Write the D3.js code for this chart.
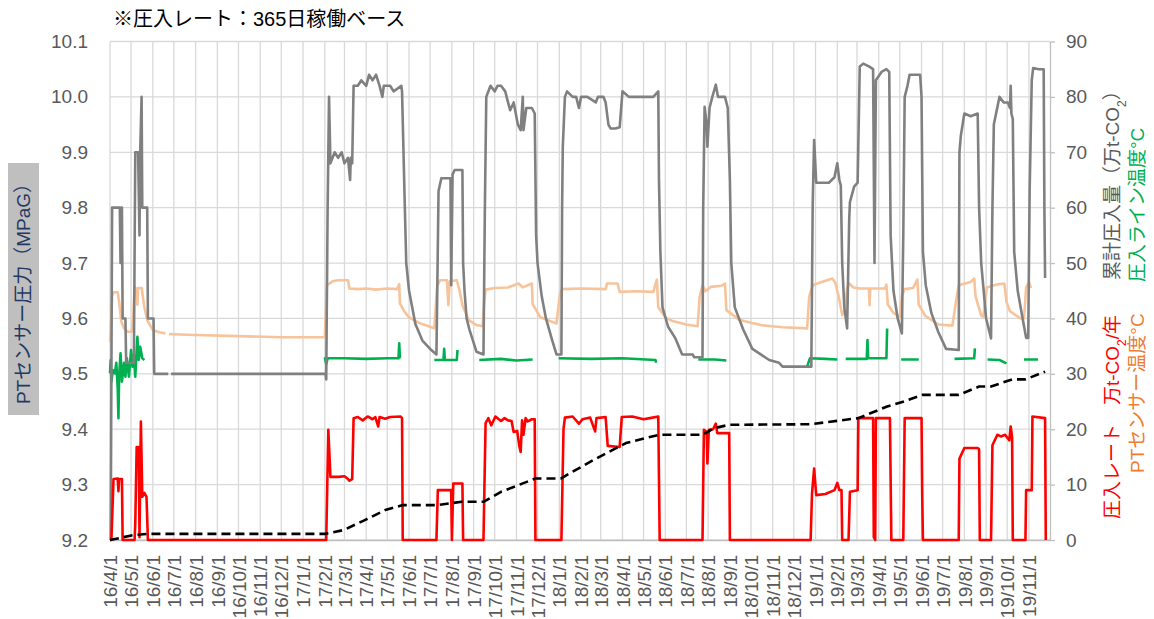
<!DOCTYPE html>
<html>
<head>
<meta charset="utf-8">
<script src="https://cdn.jsdelivr.net/npm/d3@7"></script>
<style>
  body { margin: 0; background: #fff; }
  svg { display: block; }
</style>
</head>
<body>
<div id="chart"></div>
<script>
// PTセンサー圧力 (MPaG, left axis)
var pressure = [
  ["2016-04-02",9.20],["2016-04-04",9.80],["2016-04-15",9.80],["2016-04-16",9.70],["2016-04-17",9.80],["2016-04-18",9.80],
  ["2016-04-19",9.60],["2016-04-23",9.60],["2016-04-24",9.52],["2016-05-05",9.52],["2016-05-07",9.90],["2016-05-11",9.90],
  ["2016-05-13",9.75],["2016-05-14",9.90],["2016-05-16",10.00],["2016-05-17",9.80],["2016-05-24",9.80],["2016-05-25",9.60],
  ["2016-06-02",9.60],["2016-06-03",9.50],["2016-06-23",9.50],["2016-06-25",null],["2016-06-27",9.50],["2017-02-02",9.50],
  ["2017-02-03",9.49],["2017-02-05",9.80],["2017-02-07",10.00],["2017-02-09",9.88],["2017-02-15",9.90],["2017-02-20",9.89],
  ["2017-02-25",9.90],["2017-03-01",9.88],["2017-03-06",9.89],["2017-03-09",9.85],["2017-03-10",9.89],["2017-03-12",9.88],
  ["2017-03-14",10.02],["2017-03-20",10.02],["2017-03-25",10.03],["2017-04-01",10.02],["2017-04-05",10.04],["2017-04-10",10.03],
  ["2017-04-15",10.04],["2017-04-20",10.02],["2017-04-24",10.00],["2017-04-26",10.02],["2017-05-05",10.02],["2017-05-10",10.01],
  ["2017-05-21",10.02],["2017-05-22",10.01],["2017-05-26",9.80],["2017-05-28",9.70],["2017-06-01",9.65],["2017-06-10",9.59],
  ["2017-06-20",9.56],["2017-07-01",9.545],["2017-07-10",9.535],["2017-07-13",9.83],["2017-07-17",9.853],["2017-07-30",9.853],
  ["2017-07-31",9.66],["2017-08-02",9.86],["2017-08-05",9.868],["2017-08-16",9.868],["2017-08-17",9.70],["2017-08-19",9.65],
  ["2017-08-22",9.60],["2017-08-26",9.58],["2017-09-05",9.54],["2017-09-15",9.535],["2017-09-17",9.80],["2017-09-19",10.00],
  ["2017-09-25",10.02],["2017-10-01",10.01],["2017-10-05",10.02],["2017-10-10",10.02],["2017-10-16",10.01],["2017-10-20",9.99],
  ["2017-10-23",9.976],["2017-10-28",9.99],["2017-11-03",9.95],["2017-11-07",9.94],["2017-11-10",10.00],["2017-11-11",9.94],
  ["2017-11-15",9.98],["2017-11-23",9.98],["2017-11-27",9.97],["2017-11-29",9.75],["2017-12-01",9.70],["2017-12-07",9.64],
  ["2017-12-13",9.60],["2017-12-22",9.56],["2017-12-28",9.535],["2018-01-04",9.535],["2018-01-05",9.80],["2018-01-06",9.91],
  ["2018-01-09",10.00],["2018-01-12",10.01],["2018-01-20",10.00],["2018-01-25",10.00],["2018-01-29",9.98],["2018-02-01",10.00],
  ["2018-02-10",10.00],["2018-02-22",9.99],["2018-02-25",10.00],["2018-03-05",10.00],["2018-03-08",9.99],["2018-03-12",9.95],
  ["2018-03-15",9.943],["2018-03-22",9.943],["2018-03-28",9.945],["2018-04-01",10.01],["2018-04-10",10.00],["2018-04-20",10.00],
  ["2018-05-01",10.00],["2018-05-15",10.00],["2018-05-22",10.01],["2018-05-23",9.85],["2018-05-25",9.72],["2018-05-28",9.62],
  ["2018-06-05",9.585],["2018-06-15",9.565],["2018-06-25",9.535],["2018-07-10",9.535],["2018-07-12",9.53],["2018-07-24",9.53],
  ["2018-07-25",9.80],["2018-07-27",9.982],["2018-07-30",9.95],["2018-07-31",9.91],["2018-08-03",9.98],["2018-08-07",10.00],
  ["2018-08-12",10.022],["2018-08-15",10.00],["2018-08-25",10.00],["2018-08-29",9.98],["2018-09-01",9.85],["2018-09-03",9.70],
  ["2018-09-08",9.62],["2018-09-20",9.58],["2018-10-03",9.545],["2018-10-15",9.535],["2018-10-27",9.525],["2018-11-10",9.52],
  ["2018-11-15",9.513],["2018-12-26",9.513],["2018-12-28",9.808],["2018-12-30",9.922],["2019-01-02",9.845],["2019-01-20",9.845],
  ["2019-01-28",9.855],["2019-02-01",9.88],["2019-02-04",9.85],["2019-02-06",9.84],["2019-02-08",9.70],["2019-02-11",9.62],
  ["2019-02-15",9.582],["2019-02-18",9.78],["2019-02-19",9.81],["2019-02-25",9.838],["2019-03-02",9.845],["2019-03-05",10.055],
  ["2019-03-10",10.06],["2019-03-18",10.055],["2019-03-24",10.05],["2019-03-26",9.70],["2019-03-28",10.03],["2019-04-05",10.045],
  ["2019-04-12",10.05],["2019-04-16",10.045],["2019-04-18",9.75],["2019-04-22",9.65],["2019-04-28",9.60],["2019-05-04",9.573],
  ["2019-05-06",9.75],["2019-05-08",10.00],["2019-05-12",10.02],["2019-05-15",10.04],["2019-05-30",10.04],["2019-06-01",10.00],
  ["2019-06-03",9.72],["2019-06-07",9.66],["2019-06-15",9.61],["2019-06-25",9.575],["2019-07-06",9.545],["2019-07-24",9.543],
  ["2019-07-25",9.90],["2019-07-27",9.93],["2019-08-01",9.97],["2019-08-10",9.965],["2019-08-20",9.97],["2019-08-22",9.80],
  ["2019-08-25",9.70],["2019-09-01",9.60],["2019-09-08",9.564],["2019-09-10",9.80],["2019-09-12",9.95],["2019-09-20",10.00],
  ["2019-09-26",9.99],["2019-10-02",9.99],["2019-10-05",9.98],["2019-10-06",10.02],["2019-10-07",9.97],["2019-10-09",9.96],
  ["2019-10-11",9.72],["2019-10-16",9.65],["2019-10-23",9.60],["2019-10-28",9.565],["2019-10-31",9.565],["2019-11-02",9.83],
  ["2019-11-05",10.03],["2019-11-07",10.052],["2019-11-15",10.05],["2019-11-22",10.05],["2019-11-23",9.80],["2019-11-24",9.673]
];

// PTセンサー温度 (°C, right axis)
var ptTemp = [
  ["2016-04-01",35.8],["2016-04-03",40.0],["2016-04-04",44.0],["2016-04-06",44.7],["2016-04-12",44.7],["2016-04-14",43.0],
  ["2016-04-17",39.5],["2016-04-21",38.2],["2016-04-26",37.6],["2016-05-02",37.6],["2016-05-04",40.0],["2016-05-06",45.7],
  ["2016-05-09",45.2],["2016-05-10",42.5],["2016-05-11",45.5],["2016-05-16",45.5],["2016-05-20",42.0],["2016-05-24",39.7],
  ["2016-06-01",37.9],["2016-06-10",37.5],["2016-06-19",37.3],["2016-06-22",null],["2016-06-24",37.2],["2016-07-10",37.1],
  ["2016-08-01",37.0],["2016-10-01",36.8],["2016-12-01",36.6],["2017-02-01",36.6],["2017-02-02",40.0],["2017-02-04",46.0],
  ["2017-02-12",46.7],["2017-02-20",46.9],["2017-03-06",46.9],["2017-03-08",45.4],["2017-03-20",45.3],["2017-04-01",45.4],
  ["2017-04-15",45.2],["2017-05-01",45.4],["2017-05-15",45.3],["2017-05-18",46.2],["2017-05-19",42.7],["2017-05-25",41.3],
  ["2017-06-01",40.2],["2017-06-15",39.2],["2017-07-01",38.5],["2017-07-07",38.2],["2017-07-09",42.0],["2017-07-11",45.8],
  ["2017-07-15",46.9],["2017-07-25",46.9],["2017-07-27",42.4],["2017-07-29",46.7],["2017-08-08",46.9],["2017-08-12",45.0],
  ["2017-08-16",42.4],["2017-08-25",39.7],["2017-09-05",38.8],["2017-09-14",38.6],["2017-09-16",43.0],["2017-09-18",45.2],
  ["2017-10-01",45.5],["2017-10-20",45.6],["2017-11-04",46.3],["2017-11-10",45.6],["2017-11-23",46.3],["2017-11-24",42.6],
  ["2017-12-05",40.2],["2017-12-28",39.1],["2018-01-02",44.5],["2018-01-05",45.3],["2018-02-01",45.4],["2018-03-08",45.3],
  ["2018-03-10",46.3],["2018-03-25",46.3],["2018-03-28",44.8],["2018-04-20",44.9],["2018-05-15",44.8],["2018-05-20",47.0],
  ["2018-05-22",42.0],["2018-06-01",40.2],["2018-06-10",39.6],["2018-07-01",38.9],["2018-07-17",38.6],["2018-07-20",44.0],
  ["2018-07-24",46.0],["2018-07-28",44.9],["2018-08-05",45.7],["2018-08-20",45.9],["2018-08-25",46.3],["2018-08-27",41.5],
  ["2018-09-15",39.7],["2018-10-15",38.8],["2018-11-15",38.4],["2018-12-20",38.2],["2018-12-23",44.0],["2018-12-28",46.0],
  ["2019-01-10",46.6],["2019-01-25",47.2],["2019-01-29",46.5],["2019-02-03",44.0],["2019-02-08",40.6],["2019-02-12",41.5],
  ["2019-02-15",45.5],["2019-02-18",46.3],["2019-02-24",45.6],["2019-03-05",45.4],["2019-03-18",45.4],["2019-03-19",42.4],
  ["2019-03-20",45.4],["2019-04-10",45.4],["2019-04-12",46.1],["2019-04-14",42.5],["2019-04-22",41.0],["2019-05-01",40.3],
  ["2019-05-04",44.0],["2019-05-08",45.3],["2019-05-20",45.5],["2019-05-26",47.0],["2019-05-28",42.5],["2019-06-06",40.5],
  ["2019-06-25",38.9],["2019-07-15",38.7],["2019-07-20",43.0],["2019-07-24",46.0],["2019-08-10",46.6],["2019-08-15",47.2],
  ["2019-08-17",44.0],["2019-08-25",40.5],["2019-08-28",40.3],["2019-09-02",45.6],["2019-09-15",46.1],["2019-09-27",46.3],
  ["2019-09-30",43.0],["2019-10-05",41.3],["2019-10-20",40.0],["2019-10-25",40.0],["2019-10-28",45.6],["2019-11-01",46.5],
  ["2019-11-04",45.5]
];

// 圧入ライン温度 (°C, right axis)
var lineTemp = [
  ["2016-04-01",30.1],["2016-04-02",32.5],["2016-04-03",28.6],["2016-04-05",30.7],["2016-04-08",30.1],["2016-04-10",32.0],
  ["2016-04-12",27.4],["2016-04-13",22.0],["2016-04-14",29.5],["2016-04-16",33.7],["2016-04-18",28.6],["2016-04-21",32.0],
  ["2016-04-23",29.5],["2016-04-25",32.8],["2016-04-28",29.5],["2016-05-01",34.3],["2016-05-03",31.3],["2016-05-05",33.4],
  ["2016-05-07",29.5],["2016-05-10",36.7],["2016-05-12",32.5],["2016-05-14",34.9],["2016-05-17",32.8],["2016-05-20",32.5],
  ["2016-05-21",null],
  ["2017-02-01",33.0],["2017-02-03",31.8],["2017-02-05",32.8],["2017-03-01",32.8],["2017-04-01",32.7],["2017-05-01",32.8],
  ["2017-05-17",32.8],["2017-05-18",35.5],["2017-05-19",32.8],["2017-05-20",null],
  ["2017-07-07",32.5],["2017-07-20",32.5],["2017-07-21",34.5],["2017-07-22",32.5],["2017-08-08",32.5],["2017-08-09",34.3],
  ["2017-08-10",null],
  ["2017-09-09",32.5],["2017-10-10",32.7],["2017-11-01",32.4],["2017-11-24",32.6],["2017-11-25",null],
  ["2017-12-31",32.8],["2018-02-15",32.7],["2018-04-01",32.8],["2018-05-18",32.5],["2018-05-19",32.0],["2018-05-20",null],
  ["2018-07-18",32.6],["2018-08-10",32.6],["2018-08-27",32.4],["2018-08-28",null],
  ["2018-12-20",31.3],["2018-12-24",32.8],["2019-01-15",32.7],["2019-02-01",32.6],["2019-02-02",null],
  ["2019-02-13",32.7],["2019-03-15",32.7],["2019-03-16",36.1],["2019-03-17",32.8],["2019-04-12",32.8],["2019-04-13",38.2],
  ["2019-04-14",null],
  ["2019-05-03",32.6],["2019-05-28",32.6],["2019-05-29",null],
  ["2019-07-18",32.7],["2019-08-15",32.8],["2019-08-16",34.6],["2019-08-17",null],
  ["2019-09-03",32.6],["2019-09-20",32.5],["2019-09-30",31.9],["2019-10-01",null],
  ["2019-10-25",32.6],["2019-11-14",32.6]
];

// 圧入レート (万t-CO2/年, right axis)
var rate = [
  ["2016-04-01",0],["2016-04-03",0],["2016-04-06",11.0],["2016-04-12",11.1],["2016-04-13",8.8],["2016-04-14",11.0],
  ["2016-04-18",11.0],["2016-04-19",0],["2016-05-06",0],["2016-05-07",3.0],["2016-05-09",16.8],["2016-05-12",16.8],
  ["2016-05-13",0.5],["2016-05-15",21.4],["2016-05-17",7.8],["2016-05-20",8.5],["2016-05-23",7.8],["2016-05-25",0],
  ["2017-02-03",0],["2017-02-06",19.9],["2017-02-09",11.4],["2017-02-20",11.4],["2017-03-01",11.5],["2017-03-06",11.0],
  ["2017-03-08",10.7],["2017-03-12",11.0],["2017-03-14",22.0],["2017-03-20",22.2],["2017-03-27",21.6],["2017-04-03",22.3],
  ["2017-04-10",21.8],["2017-04-14",22.2],["2017-04-18",20.5],["2017-04-20",22.2],["2017-04-28",21.9],["2017-05-05",22.2],
  ["2017-05-20",22.3],["2017-05-22",22.0],["2017-05-23",0],["2017-07-10",0],["2017-07-12",9.0],["2017-07-31",9.0],
  ["2017-08-01",0],["2017-08-03",10.2],["2017-08-16",10.2],["2017-08-17",0],["2017-09-15",0],["2017-09-18",21.1],
  ["2017-09-22",22.0],["2017-09-26",20.7],["2017-10-02",22.3],["2017-10-10",21.5],["2017-10-15",22.0],["2017-10-20",21.6],
  ["2017-10-25",21.5],["2017-10-28",19.5],["2017-11-02",19.7],["2017-11-05",17.0],["2017-11-07",15.9],["2017-11-09",21.6],
  ["2017-11-11",19.0],["2017-11-14",22.0],["2017-11-17",21.4],["2017-11-23",21.8],["2017-11-27",21.8],["2017-11-28",0],
  ["2018-01-04",0],["2018-01-07",20.0],["2018-01-09",22.1],["2018-01-20",22.3],["2018-01-29",21.0],["2018-02-03",21.8],
  ["2018-02-14",22.1],["2018-02-21",19.6],["2018-02-23",22.0],["2018-03-08",22.2],["2018-03-11",17.0],["2018-03-28",16.8],
  ["2018-03-31",22.2],["2018-04-15",22.3],["2018-05-01",21.8],["2018-05-10",22.0],["2018-05-22",22.3],["2018-05-24",0],
  ["2018-07-24",0],["2018-07-26",19.9],["2018-07-30",19.5],["2018-07-31",13.8],["2018-08-02",19.9],["2018-08-08",20.0],
  ["2018-08-12",21.0],["2018-08-14",19.3],["2018-08-31",19.3],["2018-09-01",0],["2018-12-25",0],["2018-12-27",8.4],
  ["2018-12-30",12.9],["2019-01-02",8.1],["2019-01-15",8.3],["2019-01-28",9.0],["2019-02-01",10.3],["2019-02-04",9.0],
  ["2019-02-07",9.0],["2019-02-08",0],["2019-02-17",0],["2019-02-19",8.7],["2019-03-02",9.0],["2019-03-03",22.0],
  ["2019-03-24",22.0],["2019-03-25",0.5],["2019-03-27",0],["2019-03-28",22.0],["2019-04-17",22.0],["2019-04-19",0],
  ["2019-05-06",0],["2019-05-08",22.0],["2019-06-01",22.0],["2019-06-02",8.0],["2019-06-03",0],["2019-07-24",0],
  ["2019-07-25",14.7],["2019-08-01",16.6],["2019-08-20",16.6],["2019-08-22",16.4],["2019-08-23",0],["2019-09-08",0],
  ["2019-09-10",17.1],["2019-09-17",19.0],["2019-09-22",18.7],["2019-09-28",19.0],["2019-10-04",18.0],["2019-10-06",20.5],
  ["2019-10-08",18.5],["2019-10-09",0],["2019-10-27",0],["2019-10-28",9.0],["2019-11-05",9.0],["2019-11-06",22.3],
  ["2019-11-24",22.0],["2019-11-25",0]
];

// 累計圧入量 (万t-CO2, right axis)
var cumulative = [
  ["2016-04-01",0],["2016-05-05",0.9],["2016-05-25",1.1],["2017-02-01",1.1],["2017-02-28",1.8],["2017-03-30",3.6],
  ["2017-04-28",5.4],["2017-05-23",6.3],["2017-07-10",6.3],["2017-08-15",6.9],["2017-09-15",6.9],["2017-10-10",8.7],
  ["2017-11-28",11.1],["2018-01-03",11.1],["2018-02-18",14.4],["2018-04-06",17.5],["2018-05-23",19.0],["2018-07-24",19.0],
  ["2018-08-10",20.2],["2018-08-31",20.8],["2018-12-25",20.9],["2019-03-03",22.0],["2019-04-13",24.1],["2019-05-07",25.0],
  ["2019-06-02",26.2],["2019-07-24",26.2],["2019-08-22",27.7],["2019-09-08",27.7],["2019-10-08",29.0],["2019-10-27",29.0],
  ["2019-11-24",30.4]
];

var leftTicks = [9.2, 9.3, 9.4, 9.5, 9.6, 9.7, 9.8, 9.9, 10.0, 10.1];
var rightTicks = [0, 10, 20, 30, 40, 50, 60, 70, 80, 90];
var startDate = "2016-04-01", endDate = "2019-12-01";

var width = 1154, height = 619;
var plot = { left: 110, right: 1050, top: 41.5, bottom: 540 };
var latin = "'Liberation Sans', Arial, 'Noto Sans CJK JP', sans-serif";

var parseDate = d3.timeParse("%Y-%m-%d");
function prep(arr) {
  return arr.map(function (d) { return { date: parseDate(d[0]), value: d[1] }; });
}

var x = d3.scaleTime().domain([parseDate(startDate), parseDate(endDate)]).range([plot.left, plot.right]);
var yL = d3.scaleLinear().domain([9.2, 10.1]).range([plot.bottom, plot.top]);
var yR = d3.scaleLinear().domain([0, 90]).range([plot.bottom, plot.top]);
var months = d3.timeMonth.range(parseDate(startDate), parseDate(endDate));

var svg = d3.select("#chart").append("svg")
  .attr("width", width)
  .attr("height", height)
  .style("font-family", latin);

// gridlines
svg.append("g").selectAll("line.h")
  .data(leftTicks).enter().append("line")
  .attr("x1", plot.left).attr("x2", plot.right)
  .attr("y1", function (d) { return yL(d); }).attr("y2", function (d) { return yL(d); })
  .attr("stroke", "#d9d9d9").attr("stroke-width", 1.3);
svg.append("g").selectAll("line.v")
  .data(months).enter().append("line")
  .attr("x1", function (d) { return x(d); }).attr("x2", function (d) { return x(d); })
  .attr("y1", plot.top).attr("y2", plot.bottom)
  .attr("stroke", "#d9d9d9").attr("stroke-width", 1.3);

// x axis
var xAxis = svg.append("g")
  .attr("transform", "translate(0," + plot.bottom + ")")
  .call(d3.axisBottom(x).tickValues(months).tickFormat(d3.timeFormat("%y/%-m/%-d")).tickSize(0));
xAxis.select(".domain").attr("stroke", "#bfbfbf").attr("stroke-width", 1.3);
xAxis.selectAll("text")
  .attr("transform", "rotate(-90)")
  .attr("text-anchor", "end")
  .attr("x", -15).attr("y", 0).attr("dy", "0.35em")
  .style("font-size", "19px").style("font-family", latin)
  .attr("fill", "#595959");

// left axis
var leftAxis = svg.append("g")
  .attr("transform", "translate(" + plot.left + ",0)")
  .call(d3.axisLeft(yL).tickValues(leftTicks).tickFormat(d3.format(".1f")).tickSize(0).tickPadding(22));
leftAxis.select(".domain").remove();
leftAxis.selectAll("text").style("font-size", "19px").style("font-family", latin).attr("fill", "#595959");

// right axis
var rightAxis = svg.append("g")
  .attr("transform", "translate(" + plot.right + ",0)")
  .call(d3.axisRight(yR).tickValues(rightTicks).tickSize(5).tickSizeOuter(0).tickPadding(11));
rightAxis.select(".domain").attr("stroke", "#bfbfbf").attr("stroke-width", 1.3);
rightAxis.selectAll(".tick line").attr("stroke", "#bfbfbf").attr("stroke-width", 1.3);
rightAxis.selectAll("text").style("font-size", "19px").style("font-family", latin).attr("fill", "#595959");

// series
function lineFor(scale) {
  return d3.line()
    .defined(function (d) { return d.value !== null; })
    .x(function (d) { return x(d.date); })
    .y(function (d) { return scale(d.value); });
}
var series = [
  { data: ptTemp, scale: yR, color: "#f7c39a", dash: null },
  { data: lineTemp, scale: yR, color: "#00b050", dash: null },
  { data: pressure, scale: yL, color: "#808080", dash: null },
  { data: rate, scale: yR, color: "#ff0000", dash: null },
  { data: cumulative, scale: yR, color: "#000000", dash: "9,5" }
];
series.forEach(function (s) {
  svg.append("path")
    .datum(prep(s.data))
    .attr("d", lineFor(s.scale))
    .attr("fill", "none")
    .attr("stroke", s.color)
    .attr("stroke-width", 2.6)
    .attr("stroke-linejoin", "round")
    .attr("stroke-dasharray", s.dash);
});

// title
svg.append("text")
  .attr("x", 113).attr("y", 26)
  .style("font-size", "20px")
  .attr("fill", "#000")
  .text("※圧入レート：365日稼働ベース");

// left axis title
svg.append("rect")
  .attr("x", 8).attr("y", 163).attr("width", 31).attr("height", 252)
  .attr("fill", "#bfbfbf");
svg.append("text")
  .attr("transform", "translate(23.5,289) rotate(-90)")
  .attr("text-anchor", "middle").attr("dy", "0.35em")
  .style("font-size", "19px")
  .attr("fill", "#1f3864")
  .text("PTセンサー圧力（MPaG）");

// right axis titles
function rightTitle(xPos, yPos, color, parts) {
  var t = svg.append("text")
    .attr("transform", "translate(" + xPos + "," + yPos + ") rotate(-90)")
    .attr("text-anchor", "start").attr("dy", "0.35em")
    .style("font-size", "19px")
    .attr("fill", color);
  parts.forEach(function (p) {
    if (p.sub) {
      t.append("tspan").attr("baseline-shift", "sub").style("font-size", "12px").text(p.sub);
    } else {
      t.append("tspan").text(p.text);
    }
  });
}
rightTitle(1112, 519, "#ff0000", [{ text: "圧入レート　万t-CO" }, { sub: "2" }, { text: "/年" }]);
rightTitle(1112, 280, "#595959", [{ text: "累計圧入量（万t-CO" }, { sub: "2" }, { text: "）" }]);
rightTitle(1137, 473, "#ed7d31", [{ text: "PTセンサー温度°C" }]);
rightTitle(1137, 282, "#00b050", [{ text: "圧入ライン温度°C" }]);
</script>
</body>
</html>
